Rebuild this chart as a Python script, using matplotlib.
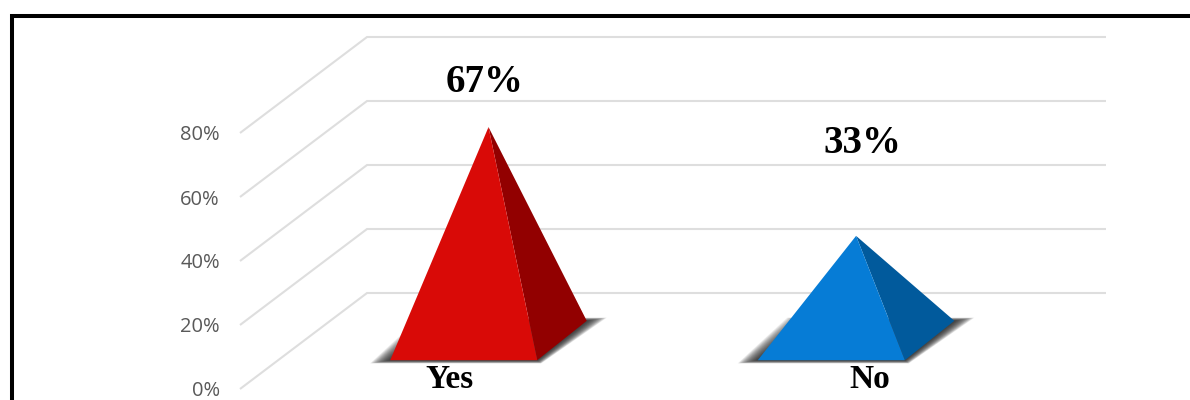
#!/usr/bin/env python3
"""Fake-3D pyramid chart: oblique projection drawn on ordinary 2D axes."""
import matplotlib
matplotlib.use("Agg")
import matplotlib.pyplot as plt
from matplotlib.lines import Line2D
from matplotlib.patches import Polygon

categories = ["Yes", "No"]
values = [67, 33]
value_labels = ["67%", "33%"]
yticks = [0, 20, 40, 60, 80]
ytick_labels = ["0%", "20%", "40%", "60%", "80%"]

front_colors = ["#d90a07", "#067cd6"]
side_colors = ["#920000", "#015a9c"]

# layout (data units: x = category index, y = percent)
X_LEFT, X_RIGHT = -0.505, 1.851
Y_TOP = 110
DEPTH_X, DEPTH_Y = 0.3456, 30      # shift of the back wall
HALF_W = 0.2
D_FRONT, D_BACK = 0.30, 0.71
D_APEX = 0.495
BACK_TRIM = 0.007                  # base is a touch less skewed than the walls
LABEL_POS = [(0.160, 95.7), (1.187, 76.7)]
CAT_POS = [(0.064, 2.9), (1.207, 2.9)]
N_SHADOW = 30


def proj(x, value, depth):
    return x + DEPTH_X * depth, value + DEPTH_Y * depth


fig = plt.figure(figsize=(11.9, 4.0), dpi=100, facecolor="white")
ax = fig.add_axes([240 / 1190, (400 - 389) / 400, (1106 - 240) / 1190, (389 - 37) / 400])
ax.set_xlim(X_LEFT, X_RIGHT)
ax.set_ylim(0, Y_TOP)
for s in ax.spines.values():
    s.set_visible(False)
ax.patch.set_visible(False)
ax.set_xticks([])
ax.set_yticks(yticks)
ax.set_yticklabels(ytick_labels, family="Open Sans", fontsize=14.5, color="#595959")
ax.tick_params(axis="y", length=0, pad=14.5)

# side wall + back wall gridlines
for v in yticks:
    p0 = proj(X_LEFT, v, 0)
    p1 = proj(X_LEFT, v, 1)
    p2 = (X_RIGHT, p1[1])
    ax.plot([p0[0], p1[0], p2[0]], [p0[1], p1[1], p2[1]], color="#dedede",
            lw=1.5, solid_joinstyle="miter", solid_capstyle="butt", clip_on=False, zorder=1)

for i, val in enumerate(values):
    fl = proj(i - HALF_W, 0, D_FRONT)
    fr = proj(i + HALF_W, 0, D_FRONT)
    br = proj(i + HALF_W - BACK_TRIM, 0, D_BACK)
    bl = proj(i - HALF_W - BACK_TRIM, 0, D_BACK)
    apex = proj(i, val, D_APEX)

    # soft floor shadow, stacked translucent outlines (widest = faintest)
    for k in range(N_SHADOW):
        f = 1 - k / N_SHADOW
        grow = 0.055 * f
        lift = 1.0 * f
        pts = [(fl[0] - grow, fl[1] - lift), (fr[0] + grow * 0.2, fr[1] - lift),
               (br[0] + grow, br[1] + lift), (bl[0] - grow, bl[1] + lift)]
        ax.add_patch(Polygon(pts, closed=True, facecolor="#222222", edgecolor="none",
                             alpha=0.055, clip_on=False, zorder=2))

    ax.add_patch(Polygon([fr, br, apex], closed=True, facecolor=side_colors[i],
                         edgecolor="none", clip_on=False, zorder=3))
    ax.add_patch(Polygon([fl, fr, apex], closed=True, facecolor=front_colors[i],
                         edgecolor="none", clip_on=False, zorder=4))

    ax.text(*LABEL_POS[i], value_labels[i], family="Liberation Serif", weight="bold",
            fontsize=28, color="black", ha="center", va="center", zorder=6)
    ax.text(*CAT_POS[i], categories[i], family="Liberation Serif", weight="bold",
            fontsize=24, color="black", ha="center", va="center", zorder=6)

# black frame, runs off the right and bottom of the picture
fig.add_artist(Line2D([11.5 / 1190, 11.5 / 1190, 1], [0, (400 - 16) / 400, (400 - 16) / 400],
                      transform=fig.transFigure, color="black", lw=2.9,
                      solid_joinstyle="miter"))

fig.savefig("out.png", dpi=100)
